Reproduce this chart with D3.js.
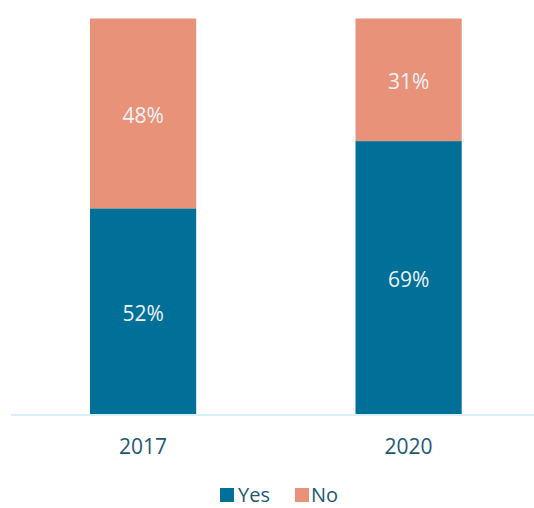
<!DOCTYPE html>
<html>
<head>
<meta charset="utf-8">
<script src="https://cdn.jsdelivr.net/npm/d3@7"></script>
<style>
  html, body { margin: 0; padding: 0; background: #ffffff; }
  svg { display: block; font-family: "Open Sans", "Noto Sans", sans-serif; }
</style>
</head>
<body>
<svg id="chart" width="534" height="508"></svg>
<script>
// Survey answers by year, in percent
const years = ["2017", "2020"];
const yesValues = [52, 69];
const noValues = [48, 31];
const seriesNames = ["Yes", "No"];
const seriesColors = ["#007098", "#E8927A"];

const svg = d3.select("#chart");

const x = d3.scaleBand()
  .domain(years)
  .range([10.35, 541.35])
  .paddingInner(0.6)
  .paddingOuter(0.3);

const y = d3.scaleLinear()
  .domain([0, 100])
  .range([414, 18.5]);

// Stack the two series on top of each other
const rows = years.map((yr, i) => ({ year: yr, Yes: yesValues[i], No: noValues[i] }));
const stacked = d3.stack().keys(seriesNames)(rows);
const color = d3.scaleOrdinal().domain(seriesNames).range(seriesColors);

const layers = svg.append("g").selectAll("g")
  .data(stacked)
  .join("g")
  .attr("fill", d => color(d.key));

layers.selectAll("rect")
  .data(d => d)
  .join("rect")
  .attr("x", d => x(d.data.year))
  .attr("width", x.bandwidth())
  .attr("y", d => y(d[1]))
  .attr("height", d => y(d[0]) - y(d[1]));

// Percentage labels centred in each segment
layers.selectAll("text")
  .data(d => d)
  .join("text")
  .attr("x", d => x(d.data.year) + x.bandwidth() / 2)
  .attr("y", d => (y(d[0]) + y(d[1])) / 2)
  .attr("dy", "0.45em")
  .attr("text-anchor", "middle")
  .attr("fill", "#eef2f4")
  .attr("font-size", 21)
  .text(d => (d[1] - d[0]) + "%");

// Category axis
const xAxis = svg.append("g")
  .attr("transform", "translate(0,415)")
  .call(d3.axisBottom(x).tickSize(0).tickPadding(24));
xAxis.select(".domain")
  .attr("d", "M11,0H534")
  .attr("stroke", "#cdebf6")
  .attr("stroke-width", 1.5);
xAxis.selectAll(".tick text")
  .attr("font-family", "Open Sans, Noto Sans, sans-serif")
  .attr("font-size", 21)
  .attr("fill", "#1d5873");

// Legend
const legendItems = [
  { name: seriesNames[0], sx: 220, tx: 238 },
  { name: seriesNames[1], sx: 295, tx: 311 }
];
const legend = svg.append("g");
legend.selectAll("rect")
  .data(legendItems)
  .join("rect")
  .attr("x", d => d.sx)
  .attr("y", 488)
  .attr("width", 14)
  .attr("height", 14)
  .attr("fill", d => color(d.name));
legend.selectAll("text")
  .data(legendItems)
  .join("text")
  .attr("x", d => d.tx)
  .attr("y", 502)
  .attr("font-size", 20)
  .attr("fill", "#1d5873")
  .text(d => d.name);
</script>
</body>
</html>
